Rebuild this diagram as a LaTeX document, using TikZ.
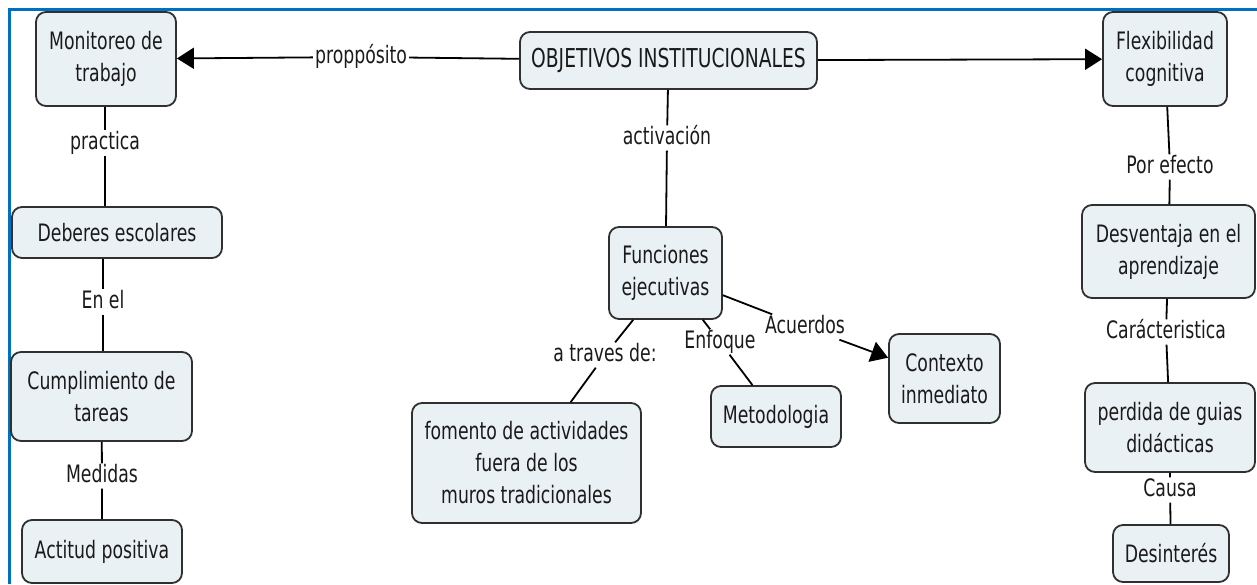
\documentclass[tikz,border=0pt]{standalone}
\usepackage{fontspec}
\setmainfont{DejaVu Sans}[FakeStretch=0.72]
\usetikzlibrary{arrows.meta}
\definecolor{boxfill}{HTML}{EAF1F4}
\definecolor{boxline}{HTML}{303030}
\definecolor{txt}{HTML}{1A1A1A}
\definecolor{frameblue}{HTML}{0070C0}
\tikzset{
  concept/.style={draw=boxline, fill=boxfill, rounded corners=10pt, line width=1.8pt,
    align=center, inner sep=0pt, text=txt, font=\fontsize{24}{32}\selectfont},
  linklabel/.style={inner sep=2pt, text=txt, font=\fontsize{24}{32}\selectfont,
    text height=17pt, text depth=4pt},
  conn/.style={draw=black, line width=1.8pt},
  arr/.style={conn, -{Triangle[length=17pt,width=21pt]}},
}
\begin{document}
\begin{tikzpicture}[x=1pt,y=-1pt]
\useasboundingbox (0,0) rectangle (1257,584);
\draw[frameblue, line width=3pt] (9,584) -- (9,9) -- (1257,9);

% concepts
\node[concept, minimum width=140, minimum height=94] (mon) at (106,59) {Monitoreo de\\trabajo};
\node[concept, minimum width=297, minimum height=57, font=\fontsize{26}{32}\selectfont] (obj) at (668.5,60.5) {OBJETIVOS INSTITUCIONALES};
\node[concept, minimum width=124, minimum height=94] (flex) at (1165,59) {Flexibilidad\\cognitiva};
\node[concept, minimum width=210, minimum height=51] (deb) at (117,232.5) {Deberes escolares};
\node[concept, minimum width=181, minimum height=89] (cum) at (101.5,396.5) {Cumplimiento de\\tareas};
\node[concept, minimum width=160, minimum height=63] (acti) at (102,551.5) {Actitud positiva};
\node[concept, minimum width=113, minimum height=92] (fe) at (665.5,273) {Funciones\\ejecutivas};
\node[concept, minimum width=229, minimum height=120] (fom) at (526.5,463) {fomento de actividades\\fuera de los\\muros tradicionales};
\node[concept, minimum width=130, minimum height=61] (met) at (776,416.5) {Metodologia};
\node[concept, minimum width=111, minimum height=89] (ctx) at (944.5,378.5) {Contexto\\inmediato};
\node[concept, minimum width=173, minimum height=93] (des) at (1168.5,251.5) {Desventaja en el\\aprendizaje};
\node[concept, minimum width=170, minimum height=89] (per) at (1170,427.5) {perdida de guias\\didácticas};
\node[concept, minimum width=116, minimum height=57] (dsi) at (1171,553.5) {Desinterés};

% linking phrases
\node[linklabel] (prop) at (361,57) {proppósito};
\node[linklabel] (prac) at (105,143) {practica};
\node[linklabel] (enel) at (103,302) {En el};
\node[linklabel] (med) at (102,476) {Medidas};
\node[linklabel] (actv) at (667,138) {activación};
\node[linklabel] (atr) at (605,355) {a traves de:};
\node[linklabel] (enf) at (720,342) {Enfoque};
\node[linklabel] (acu) at (805,327) {Acuerdos};
\node[linklabel] (pef) at (1170,167) {Por efecto};
\node[linklabel] (car) at (1166,332) {Carácteristica};
\node[linklabel] (cau) at (1170,490) {Causa};

% connectors
\draw[conn] (obj) -- (prop);
\draw[arr] (prop) -- (mon);
\draw[arr] (obj) -- (flex);
\draw[conn] (prac |- mon.south) -- (prac) -- (prac |- deb.north);
\draw[conn] (enel |- deb.south) -- (enel) -- (enel |- cum.north);
\draw[conn] (cum) -- (med) -- (acti);
\draw[conn] (obj) -- (actv) -- (fe);
\draw[conn] (fe.south west) ++(25,0) coordinate (fea) (fea) -- (atr) -- (fom);
\draw[conn] (fe.south east) ++(-20,0) coordinate (feb) (feb) -- (enf) -- (met);
\draw[conn] (fe) -- (acu);
\draw[arr] (acu) -- (ctx);
\draw[conn] (flex) -- (pef) -- (des);
\draw[conn] (des) -- (car) -- (per);
\draw[conn] (per) -- (cau) -- (dsi);
\end{tikzpicture}
\end{document}
